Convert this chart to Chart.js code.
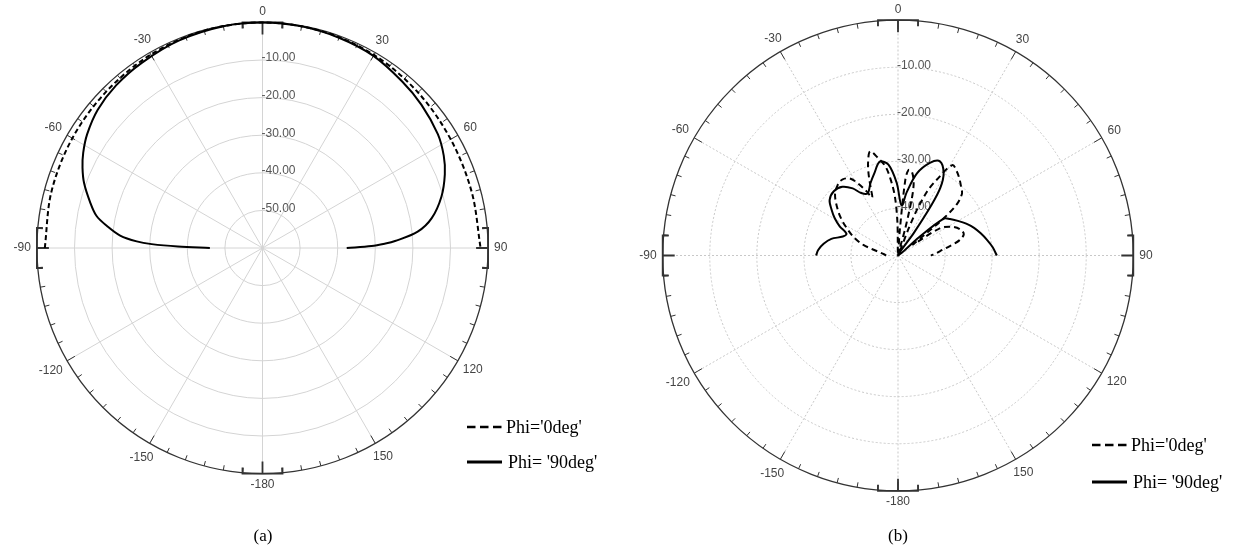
<!DOCTYPE html>
<html>
<head>
<meta charset="utf-8">
<script src="https://cdn.jsdelivr.net/npm/chart.js@4.4.1/dist/chart.umd.min.js"></script>
<style>
  body { margin: 0; background: #fff; width: 1234px; height: 556px; position: relative; overflow: hidden; }
  canvas { position: absolute; top: 0; }
  #patternA { left: 0; }
  #patternB { left: 617px; }
  .cap { position: absolute; top: 526px; width: 100px; text-align: center;
         font: 17px "Liberation Serif", "Times New Roman", serif; color: #000; }
</style>
</head>
<body>
<canvas id="patternA" width="617" height="556"></canvas>
<canvas id="patternB" width="617" height="556"></canvas>
<div class="cap" style="left:213px">(a)</div>
<div class="cap" style="left:848px">(b)</div>
<script>
// angle axis (deg, clockwise from top) and the dB rings
const angleTicks = [0, 30, 60, 90, 120, 150, -180, -150, -120, -90, -60, -30];
const ringsA = [-60, -50, -40, -30, -20, -10, 0];
const ringLabelsA = [-50, -40, -30, -20, -10];
const ringsB = [-50, -40, -30, -20, -10, 0];
const ringLabelsB = [-40, -30, -20, -10];
const seriesNames = ["Phi='0deg'", "Phi= '90deg'"];

// (a) Phi = 0deg (dashed)
const thetaA0 = [-90, -75, -60, -45, -30, -15, 0, 15, 30, 45, 60, 75, 90];
const gainA0 = [-2.1, -1.9, -1.6, -1.2, -0.6, -0.15, 0, -0.2, -0.7, -1.5, -2.2, -2.4, -2.0];
// (a) Phi = 90deg (solid)
const thetaA90 = [-90, -89, -88, -87, -85, -82, -79, -75, -70, -66, -62, -57, -50, -42, -33, -22, -10,
                  0, 10, 20, 30, 40, 48, 57, 63, 68, 74, 80, 84, 87, 88, 89, 90];
const gainA90 = [-46, -37.5, -30.5, -26.5, -22, -18.3, -15, -12.5, -9.5, -7.6, -6, -4.4, -2.8, -1.8, -1.2, -0.5, -0.1,
                 0, -0.15, -0.5, -1.0, -2.2, -3.1, -4.4, -5.9, -7.7, -10.5, -14.3, -18.5, -24.7, -27.5, -31, -37.6];

// (b) Phi = 0deg (dashed)
const thetaB0 = [-90, -85, -80, -73, -68, -63, -58, -53, -46, -40, -36, -32, -29, -26, -24, -22, -20, -18, -15,
                 -11.5, -8, -5.5, -3, -1, 2, 4, 5.5, 7, 9.3, 12, 13.5, 15, 18, 21.5, 22.5, 24.5, 27, 31, 35,
                 39, 43, 46, 49, 51, 52.5, 54, 57, 62, 67, 72, 76, 80, 84, 87, 90];
const gainB0 = [-47.5, -47, -46, -42.3, -40, -38.1, -36, -34, -31.4, -30.2, -30.0, -30.7, -32.5, -34.9, -36.5, -34.5, -31.8, -29.4, -27.1,
                -28.9, -30.9, -33.8, -37.5, -43, -50, -45, -34, -31.7, -31.9, -34, -37, -44, -50, -44, -39.5, -35, -32, -27.6, -28.2,
                -29.2, -30.3, -31.1, -33.5, -38, -44, -46, -39.4, -37, -35.7, -35.3, -36.5, -39, -41, -42, -43];
// (b) Phi = 90deg (solid)
const thetaB90 = [-90, -86, -81, -76, -71, -67, -63.5, -59.5, -55.5, -51, -45, -39, -34, -30.5, -26, -21, -16, -11, -6, -1,
                  4, 8, 13, 19, 24, 29, 32, 33.5, 35, 42, 49, 51, 55, 60, 65, 70, 75, 80, 85, 90];
const gainB90 = [-32.6, -33.0, -34.0, -35.4, -37.6, -38.1, -36.2, -34.4, -32.9, -31.3, -30.7, -31.2, -32.8, -34.6, -35.3, -33.6, -31.8, -29.7, -30.6, -34.6,
                 -39.3, -36.3, -32.1, -29.2, -28.1, -30.0, -33.0, -37, -44, -50, -44, -37.6, -36.5, -35.3, -34.0, -32.8, -31.8, -30.8, -29.8, -29.0];

const W = 617, H = 556;

// polar (deg, dB) -> cartesian units, radius measured from the bottom of the dB range
function polar(theta, gain, min) {
  return theta.map((t, i) => {
    const r = gain[i] - min, a = t * Math.PI / 180;
    return { x: r * Math.sin(a), y: r * Math.cos(a) };
  });
}

const polarGrid = {
  id: 'polarGrid',
  beforeDatasetsDraw(chart, args, o) {
    const { ctx, scales: { x, y } } = chart;
    const cx = x.getPixelForValue(0), cy = y.getPixelForValue(0);
    const rad = v => x.getPixelForValue(v - o.min) - cx;
    const R = rad(0);
    const pt = (deg, r) => { const a = deg * Math.PI / 180; return [cx + r * Math.sin(a), cy - r * Math.cos(a)]; };
    ctx.save();
    // rings and spokes
    ctx.strokeStyle = o.gridColor; ctx.lineWidth = 1; ctx.setLineDash(o.gridDash);
    o.rings.forEach(v => {
      if (v <= o.min || v >= 0) return;
      ctx.beginPath(); ctx.arc(cx, cy, rad(v), 0, Math.PI * 2); ctx.stroke();
    });
    angleTicks.forEach(a => { ctx.beginPath(); ctx.moveTo(cx, cy); ctx.lineTo(...pt(a, R)); ctx.stroke(); });
    ctx.setLineDash([]);
    // ring values
    ctx.fillStyle = '#555'; ctx.font = '12px "Liberation Sans", Arial, sans-serif';
    ctx.textAlign = 'left'; ctx.textBaseline = 'middle';
    o.ringLabels.forEach(v => ctx.fillText(v.toFixed(2), cx - 1, cy - rad(v) - 2));
    // outer ring with 5 deg ticks
    ctx.strokeStyle = '#333'; ctx.lineWidth = 1.3;
    ctx.beginPath(); ctx.arc(cx, cy, R, 0, Math.PI * 2); ctx.stroke();
    ctx.lineWidth = 1;
    for (let a = 0; a < 360; a += 5) {
      const len = a % 30 === 0 ? 9 : 5;
      ctx.beginPath(); ctx.moveTo(...pt(a, R)); ctx.lineTo(...pt(a, R - len)); ctx.stroke();
    }
    // brackets on the four axes
    ctx.lineWidth = 1.8;
    [0, 90, 180, 270].forEach(a => {
      const t = a * Math.PI / 180;
      const ux = Math.sin(t), uy = -Math.cos(t), vx = Math.cos(t), vy = Math.sin(t);
      const bx = cx + R * ux, by = cy + R * uy;
      ctx.beginPath();
      ctx.moveTo(bx - 20 * vx - 6 * ux, by - 20 * vy - 6 * uy);
      ctx.lineTo(bx - 20 * vx, by - 20 * vy);
      ctx.lineTo(bx + 20 * vx, by + 20 * vy);
      ctx.lineTo(bx + 20 * vx - 6 * ux, by + 20 * vy - 6 * uy);
      ctx.moveTo(bx, by); ctx.lineTo(bx - 12 * ux, by - 12 * uy);
      ctx.stroke();
    });
    // angle labels
    ctx.fillStyle = '#444'; ctx.textAlign = 'center';
    angleTicks.forEach(a => {
      const s = String(a), hw = ctx.measureText(s).width / 2, t = a * Math.PI / 180;
      const off = 6 + hw * Math.abs(Math.sin(t)) + 5 * Math.abs(Math.cos(t));
      ctx.fillText(s, ...pt(a, R + off));
    });
    ctx.restore();
  },
  afterDatasetsDraw(chart, args, o) {
    const { ctx } = chart;
    ctx.save();
    ctx.font = '18px "Liberation Serif", "Times New Roman", serif';
    ctx.fillStyle = '#000'; ctx.textBaseline = 'middle'; ctx.textAlign = 'left';
    chart.data.datasets.forEach((ds, i) => {
      const y0 = o.legendY + i * o.legendGap;
      const dashed = ds.borderDash.length > 0;
      ctx.strokeStyle = '#000'; ctx.lineWidth = dashed ? 2.6 : 3;
      ctx.setLineDash(dashed ? [8.5, 4.5] : []);
      ctx.beginPath(); ctx.moveTo(o.legendX, y0); ctx.lineTo(o.legendX + 35, y0); ctx.stroke();
      ctx.fillText(ds.label, o.legendX + 39 + i * 2, y0 + 1);
    });
    ctx.restore();
  }
};

function drawPattern(id, p) {
  const k = p.R / -p.min; // px per dB
  new Chart(id, {
    type: 'scatter',
    data: {
      datasets: [
        { label: seriesNames[0], data: polar(p.theta0, p.gain0, p.min), showLine: true,
          borderColor: '#000', borderWidth: 2, borderDash: p.dash, pointRadius: 0, tension: 0.33 },
        { label: seriesNames[1], data: polar(p.theta90, p.gain90, p.min), showLine: true,
          borderColor: '#000', borderWidth: 2, borderDash: [], pointRadius: 0, tension: 0.33 }
      ]
    },
    options: {
      responsive: false,
      animation: false,
      devicePixelRatio: 1,
      layout: { padding: 0 },
      scales: {
        x: { display: false, min: -p.cx / k, max: (W - p.cx) / k },
        y: { display: false, min: -(H - p.cy) / k, max: p.cy / k }
      },
      plugins: {
        legend: { display: false },
        tooltip: { enabled: false },
        polarGrid: {
          min: p.min, rings: p.rings, ringLabels: p.ringLabels,
          gridColor: p.gridColor, gridDash: p.gridDash,
          legendX: p.legendX, legendY: p.legendY, legendGap: p.legendGap
        }
      }
    },
    plugins: [polarGrid]
  });
}

drawPattern('patternA', {
  min: -60, rings: ringsA, ringLabels: ringLabelsA,
  theta0: thetaA0, gain0: gainA0, theta90: thetaA90, gain90: gainA90,
  cx: 262.5, cy: 248, R: 225.6, dash: [5, 3],
  gridColor: '#d4d4d4', gridDash: [],
  legendX: 467, legendY: 427, legendGap: 35
});

drawPattern('patternB', {
  min: -50, rings: ringsB, ringLabels: ringLabelsB,
  theta0: thetaB0, gain0: gainB0, theta90: thetaB90, gain90: gainB90,
  cx: 281, cy: 255.5, R: 235.3, dash: [6, 4],
  gridColor: '#c8c8c8', gridDash: [2, 2],
  legendX: 475, legendY: 445, legendGap: 37
});
</script>
</body>
</html>
